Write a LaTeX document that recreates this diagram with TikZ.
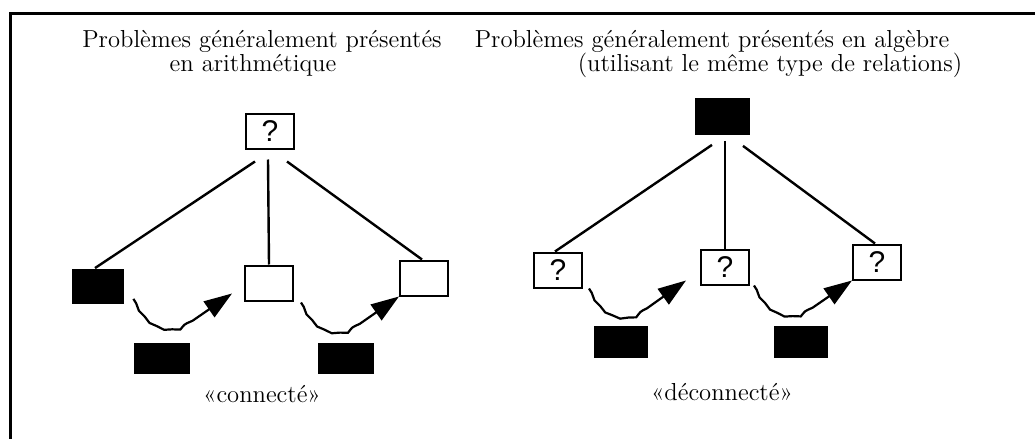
\documentclass[tikz,border=0pt]{standalone}
\usepackage{fontspec}
\newfontfamily\qfont{Liberation Sans}
\usetikzlibrary{arrows.meta}
\usetikzlibrary{calc}
\usetikzlibrary{positioning}
\usetikzlibrary{decorations.pathmorphing}

\begin{document}
\begin{tikzpicture}[
    x=0.5pt, y=-0.5pt,
    title/.style={
      font=\fontsize{12.3}{14}\selectfont, anchor=base, inner sep=0pt
    },
    qbox/.style={
      draw, line width=1pt, inner sep=0pt,
      minimum width=24pt, minimum height=17.5pt,
      font=\qfont\fontsize{15}{15}\selectfont
    },
    fullbox/.style={
      fill=black, inner sep=0pt, minimum width=26pt, minimum height=17.5pt
    },
    branch/.style={
      line width=1.2pt
    },
    wavy/.style={
      line width=1.1pt, decorate,
      decoration={snake, amplitude=0.3pt, segment length=8pt, post length=24pt},
      -{Triangle[length=14pt,width=9.5pt]}
    }
  ]
    \useasboundingbox (0,0) rectangle (1035,439);

    \coordinate (FA) at (  10,439);
    \coordinate (FB) at (  10, 13);
    \coordinate (FC) at (1035, 13);
    \draw[line width=1.5pt] (FA) -- (FB) -- (FC);

    % arithmetique
    \node[title] (LT1) at (262,47) {Problèmes généralement présentés};
    \node[title] (LT2) at (253,71) {en arithmétique};

    \node[qbox]    (LQ) at (270,131) {?};
    \node[fullbox] (LA) at ( 98,286) {};
    \node[qbox]    (LB) at (269,283) {};
    \node[qbox]    (LC) at (424,278) {};
    \node[fullbox, minimum width=28pt, minimum height=15.5pt] (LD) at (162,358) {};
    \node[fullbox, minimum width=28pt, minimum height=15.5pt] (LE) at (346,358) {};

    \draw[branch] ($(LQ.south)+(-15,12)$) -- ($(LA.north)+(-3,0)$);
    \draw[branch] ($(LQ.south)+( -2,10)$) -- (LB.north);
    \draw[branch] ($(LQ.south)+( 17,12)$) -- ($(LC.north)+(-2,0)$);

    \draw[wavy] ($(LA.south east)+(9,-5)$) .. controls +(18,38) and +(-47,42) .. ($(LB.south west)+(-12,-8)$);
    \draw[wavy] ($(LB.south east)+(7,1)$)  .. controls +(18,38) and +(-47,42) .. (LC.south west);

    \node[title] (LL) at (262,402) {«connecté»};

    % algebre
    \node[title] (RT1) at (712,47) {Problèmes généralement présentés en algèbre};
    \node[title] (RT2) at (770,71) {(utilisant le même type de relations)};

    \node[fullbox, minimum width=27.5pt, minimum height=18.5pt] (RQ) at (722,116) {};
    \node[qbox] (RA) at (558,270) {?};
    \node[qbox] (RB) at (725,267) {?};
    \node[qbox] (RC) at (877,262) {?};
    \node[fullbox, minimum width=27pt, minimum height=16pt] (RD) at (621,342) {};
    \node[fullbox, minimum width=27pt, minimum height=16pt] (RE) at (801,342) {};

    \draw[branch] ($(RQ.south)+(-10,10)$) -- ($(RA.north)+(-3,0)$);
    \draw[branch] ($(RQ.south)+(  3, 6)$) -- (RB.north);
    \draw[branch] ($(RQ.south)+( 21,11)$) -- ($(RC.north)+(-2,0)$);

    \draw[wavy] ($(RA.south east)+(6,0)$) .. controls +(18,38) and +(-47,42) .. ($(RB.south west)+(-14,-5)$);
    \draw[wavy] ($(RB.south east)+(4,0)$) .. controls +(18,38) and +(-47,42) .. (RC.south west);

    \node[title] (RL) at (722,400) {«déconnecté»};
\end{tikzpicture}
\end{document}
